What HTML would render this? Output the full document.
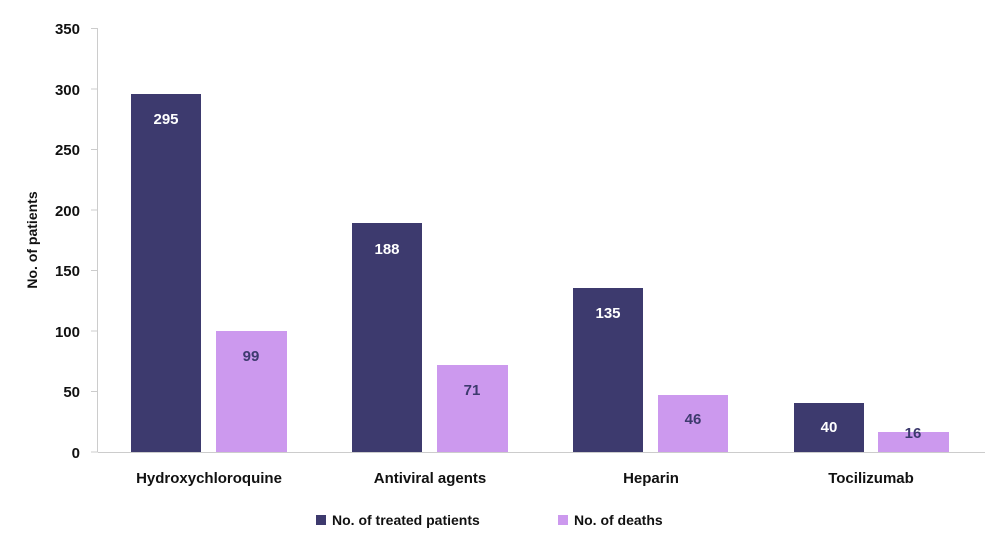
<!DOCTYPE html><html><head><style>body{margin:0;background:#fff}svg text{font-family:"Liberation Sans",sans-serif;font-weight:bold}</style></head><body>
<svg width="1000" height="553" viewBox="0 0 1000 553">
<g stroke="#ccc" stroke-width="1"><line x1="97.5" y1="28" x2="97.5" y2="452"/><line x1="97.5" y1="452.5" x2="985" y2="452.5"/>
<line x1="91" y1="28.5" x2="97" y2="28.5"/><line x1="91" y1="89" x2="97" y2="89"/><line x1="91" y1="149.5" x2="97" y2="149.5"/><line x1="91" y1="210" x2="97" y2="210"/><line x1="91" y1="270.5" x2="97" y2="270.5"/><line x1="91" y1="331" x2="97" y2="331"/><line x1="91" y1="391.5" x2="97" y2="391.5"/><line x1="91" y1="452" x2="97" y2="452"/></g>
<g font-size="15" text-anchor="end" fill="#111"><text x="80" y="34">350</text><text x="80" y="95">300</text><text x="80" y="155">250</text><text x="80" y="216">200</text><text x="80" y="276">150</text><text x="80" y="337">100</text><text x="80" y="397">50</text><text x="80" y="458">0</text></g>
<text transform="translate(37,240) rotate(-90)" font-size="14" text-anchor="middle" fill="#111">No. of patients</text>
<g fill="#3d3a6e"><rect x="131" y="94" width="70" height="358"/><rect x="352" y="223" width="70" height="229"/><rect x="573" y="288" width="70" height="164"/><rect x="794" y="403" width="70" height="49"/></g>
<g fill="#cc99ee"><rect x="216" y="331" width="71" height="121"/><rect x="437" y="365" width="71" height="87"/><rect x="658" y="395" width="70" height="57"/><rect x="878" y="432" width="71" height="20"/></g>
<g font-size="15" text-anchor="middle" fill="#fff"><text x="166" y="124">295</text><text x="387" y="254">188</text><text x="608" y="318">135</text><text x="829" y="432">40</text></g>
<g font-size="15" text-anchor="middle" fill="#3d3a6e"><text x="251" y="361">99</text><text x="472" y="395">71</text><text x="693" y="424">46</text><text x="913" y="438">16</text></g>
<g font-size="15" text-anchor="middle" fill="#111"><text x="209" y="483">Hydroxychloroquine</text><text x="430" y="483">Antiviral agents</text><text x="651" y="483">Heparin</text><text x="871" y="483">Tocilizumab</text></g>
<rect x="316" y="515" width="10" height="10" fill="#3d3a6e"/><text x="332" y="525" font-size="14" fill="#111">No. of treated patients</text>
<rect x="558" y="515" width="10" height="10" fill="#cc99ee"/><text x="574" y="525" font-size="14" fill="#111">No. of deaths</text>
</svg></body></html>
